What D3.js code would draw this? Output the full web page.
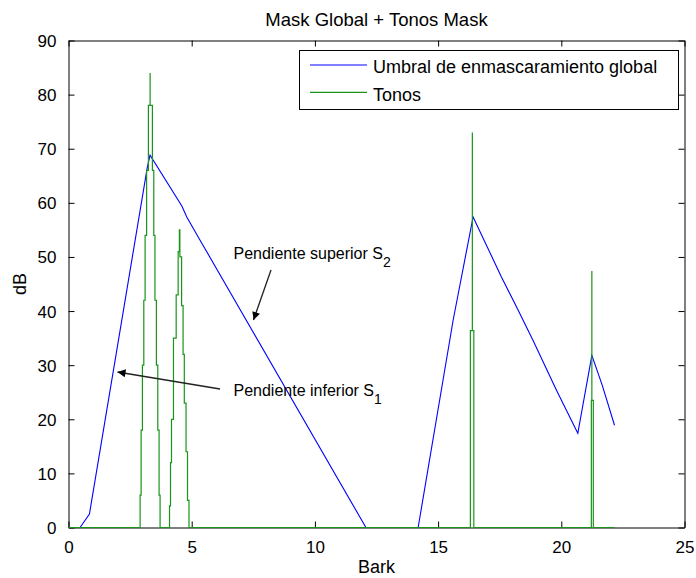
<!DOCTYPE html>
<html>
<head>
<meta charset="utf-8">
<script src="https://cdn.jsdelivr.net/npm/d3@7"></script>
<style>
  html, body { margin: 0; padding: 0; background: #fff; }
  svg { display: block; font-family: "Liberation Sans", Arial, sans-serif; }
</style>
</head>
<body>
<svg id="chart" width="696" height="578"></svg>
<script>
// ---- data ----
const chartTitle = "Mask Global + Tonos Mask";
const xLabel = "Bark";
const yLabel = "dB";
const xTicks = [0, 5, 10, 15, 20, 25];
const yTicks = [0, 10, 20, 30, 40, 50, 60, 70, 80, 90];
const seriesNames = ["Umbral de enmascaramiento global", "Tonos"];

// global masking threshold: [bark, dB]
const maskBark = [0.47, 0.85, 3.20, 3.31, 4.60, 4.80, 5.34, 12.07, 14.19, 15.61, 16.42, 17.57, 18.18, 18.85, 19.80, 20.67, 21.24, 21.66, 22.16];
const maskDb   = [0,    2.5,  66.6, 68.8, 59.4, 57.4, 53.1, 0,     0,     38.3,  57.4,  46.3,  40.8,  34.6,  25.4,  17.4,  31.8,  26.3,  18.9];

// tonal components (staircase outline): [bark, dB]
const toneBark = [
  0,
  2.906, 2.906, 2.947, 2.947, 3.000, 3.000, 3.056, 3.056, 3.109, 3.109, 3.170, 3.170, 3.243, 3.243, 3.312, 3.312, 3.312,
  3.405, 3.405, 3.462, 3.462, 3.509, 3.509, 3.567, 3.567, 3.624, 3.624, 3.676, 3.676, 3.717, 3.717,
  4.10, 4.10, 4.14, 4.14, 4.18, 4.18, 4.26, 4.26, 4.37, 4.37, 4.45, 4.45, 4.50, 4.50,
  4.52, 4.52, 4.59, 4.59, 4.65, 4.65, 4.70, 4.70, 4.77, 4.77, 4.83, 4.83, 4.89, 4.89,
  16.31, 16.31, 16.39, 16.39, 16.39, 16.45, 16.45,
  21.22, 21.22, 21.24, 21.24, 21.24, 21.30, 21.30,
  22.16
];
const toneDb = [
  0,
  0, 6, 6, 18, 18, 30, 30, 42, 42, 54, 54, 66, 66, 78, 78, 84, 78,
  78, 66, 66, 54, 54, 42, 42, 30, 30, 18, 18, 6, 6, 0,
  0, 4, 4, 12, 12, 20, 20, 35, 35, 43, 43, 51, 51, 55,
  55, 50, 50, 41, 41, 32, 32, 23, 23, 14, 14, 5, 5, 0,
  0, 36.4, 36.4, 73, 36.4, 36.4, 0,
  0, 23.5, 23.5, 47.4, 23.5, 23.5, 0,
  0
];

// ---- drawing ----
const svg = d3.select("#chart");
const W = 696, H = 578;
const x = d3.scaleLinear().domain([0, 25]).range([68.5, 684.5]);
const y = d3.scaleLinear().domain([0, 90]).range([527.5, 40.5]);
const colors = ["#0000ff", "#1a941a"];

svg.append("rect").attr("width", W).attr("height", H).attr("fill", "#fff");

const tickLen = 6;
const axisColor = "#000";
const tickFont = 17;

// axes (bottom / top / left / right) with inward ticks
const gBottom = svg.append("g").attr("transform", `translate(0,${y(0)})`)
  .call(d3.axisBottom(x).tickValues(xTicks).tickSize(-tickLen).tickPadding(tickLen + 7).tickSizeOuter(0));
const gTop = svg.append("g").attr("transform", `translate(0,${y(90)})`)
  .call(d3.axisTop(x).tickValues(xTicks).tickSize(-tickLen).tickFormat("").tickSizeOuter(0));
const gLeft = svg.append("g").attr("transform", `translate(${x(0)},0)`)
  .call(d3.axisLeft(y).tickValues(yTicks).tickSize(-tickLen).tickPadding(tickLen + 6).tickSizeOuter(0));
const gRight = svg.append("g").attr("transform", `translate(${x(25)},0)`)
  .call(d3.axisRight(y).tickValues(yTicks).tickSize(-tickLen).tickFormat("").tickSizeOuter(0));

[gBottom, gTop, gLeft, gRight].forEach(g => {
  g.select(".domain").attr("stroke", axisColor).attr("stroke-width", 1);
  g.selectAll(".tick line").attr("stroke", axisColor).attr("stroke-width", 1);
  g.selectAll(".tick text").attr("fill", "#000").attr("font-size", tickFont)
    .attr("font-family", "Liberation Sans, Arial, sans-serif");
});
gBottom.selectAll(".tick text").attr("dy", "0.75em");
gLeft.selectAll(".tick text").attr("dy", "0.35em");

// lines
const line = d3.line().x(d => x(d[0])).y(d => y(d[1]));
const maskPts = maskBark.map((b, i) => [b, maskDb[i]]);
const tonePts = toneBark.map((b, i) => [b, toneDb[i]]);

svg.append("path").datum(maskPts)
  .attr("d", line).attr("fill", "none")
  .attr("stroke", colors[0]).attr("stroke-width", 1.1);
svg.append("path").datum(tonePts)
  .attr("d", line).attr("fill", "none")
  .attr("stroke", colors[1]).attr("stroke-width", 1.2);

// title & axis labels
svg.append("text").attr("x", (x(0) + x(25)) / 2).attr("y", 26)
  .attr("text-anchor", "middle").attr("font-size", 18.5).attr("fill", "#000")
  .text(chartTitle);
svg.append("text").attr("x", (x(0) + x(25)) / 2).attr("y", 572.5)
  .attr("text-anchor", "middle").attr("font-size", 18).attr("fill", "#000")
  .text(xLabel);
svg.append("text")
  .attr("transform", `translate(26,${(y(0) + y(90)) / 2}) rotate(-90)`)
  .attr("text-anchor", "middle").attr("font-size", 18).attr("fill", "#000")
  .text(yLabel);

// legend
const lg = svg.append("g");
lg.append("rect").attr("x", 299.5).attr("y", 50.5).attr("width", 379).attr("height", 59)
  .attr("fill", "#fff").attr("stroke", "#000").attr("stroke-width", 1);
seriesNames.forEach((name, i) => {
  const ly = 65 + i * 27.3;
  lg.append("line").attr("x1", 310).attr("x2", 367).attr("y1", ly).attr("y2", ly)
    .attr("stroke", colors[i]).attr("stroke-width", 1.2);
  lg.append("text").attr("x", 373).attr("y", ly + 8.3)
    .attr("font-size", 18).attr("fill", "#000").text(name);
});

// annotations with arrows
svg.append("defs").append("marker")
  .attr("id", "arrow").attr("viewBox", "0 0 10 10")
  .attr("refX", 10).attr("refY", 5)
  .attr("markerWidth", 10).attr("markerHeight", 8)
  .attr("markerUnits", "userSpaceOnUse")
  .attr("orient", "auto")
  .append("path").attr("d", "M0,0 L10,5 L0,10 Z").attr("fill", "#000");

const annots = [
  { text: "Pendiente superior S", sub: "2", tx: 233.5, ty: 259, from: [271, 270], to: [253.5, 320] },
  { text: "Pendiente inferior S", sub: "1", tx: 233.5, ty: 396, from: [220, 389], to: [117.5, 372] }
];
annots.forEach(a => {
  svg.append("line")
    .attr("x1", a.from[0]).attr("y1", a.from[1]).attr("x2", a.to[0]).attr("y2", a.to[1])
    .attr("stroke", "#222").attr("stroke-width", 1.3).attr("marker-end", "url(#arrow)");
  const t = svg.append("text").attr("x", a.tx).attr("y", a.ty)
    .attr("font-size", 16).attr("fill", "#000");
  t.append("tspan").text(a.text);
  t.append("tspan").attr("dy", 8).attr("font-size", 14).text(a.sub);
});
</script>
</body>
</html>
